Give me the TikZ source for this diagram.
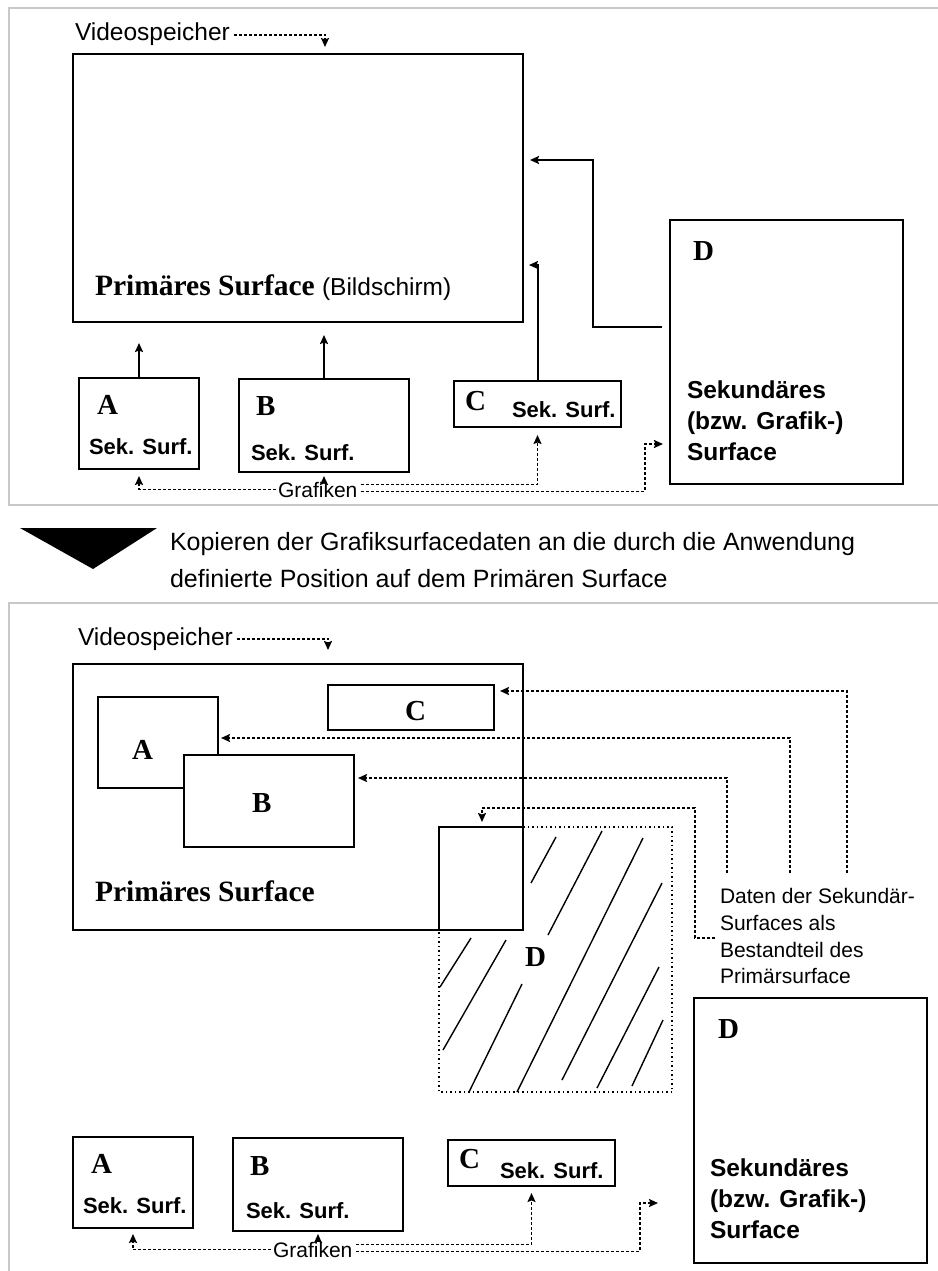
\documentclass[tikz,border=0pt]{standalone}
\usepackage{fontspec}
\setmainfont{Liberation Serif}
\setsansfont{Liberation Sans}
\usetikzlibrary{arrows.meta}
\definecolor{panelgray}{RGB}{200,200,200}
\tikzset{
  surf/.style={draw, line width=2.2pt, inner sep=0pt, outer sep=0pt, anchor=north west, fill=white},
  txtn/.style={inner sep=0pt, outer sep=0pt, anchor=base west, font=\sffamily\fontsize{#1}{#1}\selectfont},
  txtb/.style={inner sep=0pt, outer sep=0pt, anchor=base west, font=\sffamily\bfseries\fontsize{#1}{#1}\selectfont},
  txtser/.style={inner sep=0pt, outer sep=0pt, anchor=base west, font=\bfseries\fontsize{#1}{#1}\selectfont},
  solidarrow/.style={line width=2pt, -{Stealth[length=9pt,width=8pt,inset=1.5pt]}},
  dotarrow/.style={line width=1.8pt, dash pattern=on 3pt off 2pt, -{Stealth[length=9pt,width=8pt,inset=1.5pt]}},
  panelline/.style={draw=panelgray, line width=2pt},
  dregion/.style={line width=1.5pt, dash pattern=on 1.5pt off 3pt},
  hatchline/.style={line width=1.4pt},
}
\begin{document}
\begin{tikzpicture}[x=1pt,y=-1pt]
\useasboundingbox (0,0) rectangle (937,1271);
\fill[white] (0,0) rectangle (937,1271);

% ---------- upper panel ----------
\draw[panelline] (945,8) -- (9,8) -- (9,505) -- (945,505);

\node[txtn=24.5] (V1) at (75,41) {Videospeicher};
\coordinate (V1t) at (325,47);
\draw[dotarrow] ([xshift=4pt]V1.east) -| (V1t);

\node[surf, minimum width=450pt, minimum height=268pt] (P1) at (73,54) {};
\node[txtser=29.5] (P1l) at (95,295) {Primäres Surface};
\node[txtn=24.5] (P1b) at (322,295) {(Bildschirm)};

\node[surf, minimum width=233pt, minimum height=264pt] (D1) at (670,220) {};
\node[txtser=29] (D1l) at (693,260) {D};
\node[txtb=24.5] (D1s1) at (687,398) {Sekundäres};
\node[txtb=24.5] (D1s2) at (687,429) {(bzw. Grafik-)};
\node[txtb=24.5] (D1s3) at (687,460) {Surface};

\node[surf, minimum width=120pt, minimum height=91pt] (A1) at (79,378) {};
\node[txtser=29] (A1l) at (97,414) {A};
\node[txtb=22] (A1s) at (89,454) {Sek. Surf.};

\node[surf, minimum width=170pt, minimum height=93pt] (B1) at (239,379) {};
\node[txtser=29] (B1l) at (256,415) {B};
\node[txtb=22] (B1s) at (251,460) {Sek. Surf.};

\node[surf, minimum width=167pt, minimum height=46pt] (C1) at (454,381) {};
\node[txtser=29] (C1l) at (465,410) {C};
\node[txtb=22] (C1s) at (512,417) {Sek. Surf.};

% copying into the primary surface
\coordinate (A1t) at (139,343);
\coordinate (B1t) at (324,335);
\coordinate (C1t) at (529,265);
\coordinate (D1t) at (530,160);
\draw[solidarrow] (A1.north) -- (A1t);
\draw[solidarrow] (B1.north) -- (B1t);
\draw[solidarrow] (C1.north) |- (C1t);
\draw[solidarrow] ([shift={(-8pt,25pt)}]D1.west) -- ++(-69,0) |- (D1t);

% graphics loaded into the secondary surfaces
\node[txtn=21] (G1) at (278,497) {Grafiken};
\draw[dotarrow] ([xshift=-2pt]G1.west) -| ([yshift=-7pt]A1.south);
\draw[dotarrow] (G1.north -| B1.south) -- ([yshift=-4pt]B1.south);
\draw[dotarrow] ([shift={(4pt,5pt)}]G1.east) -| ([yshift=-8pt]C1.south);
\coordinate (D1in) at (663,444);
\draw[dotarrow] ([shift={(4pt,-2pt)}]G1.east) -| (645,444) -- (D1in);

% ---------- transition ----------
\fill (20,528) -- (157,528) -- (93,569) -- cycle;
\node[txtn=25] (K1) at (170,550) {Kopieren der Grafiksurfacedaten an die durch die Anwendung};
\node[txtn=25] (K2) at (170,587) {definierte Position auf dem Primären Surface};

% ---------- lower panel ----------
\draw[panelline] (945,603) -- (9,603) -- (9,1280);

\node[txtn=24.5] (V2) at (78,645) {Videospeicher};
\coordinate (V2t) at (328,650);
\draw[dotarrow] ([xshift=4pt]V2.east) -| (V2t);

\node[surf, minimum width=450pt, minimum height=266pt] (P2) at (73,664) {};
\node[txtser=29.5] (P2l) at (95,901) {Primäres Surface};

\node[surf, minimum width=120pt, minimum height=91pt] (iA) at (98,697) {};
\node[txtser=29] (iAl) at (132,759) {A};
\node[surf, minimum width=170pt, minimum height=92pt] (iB) at (184,755) {};
\node[txtser=29] (iBl) at (252,812) {B};
\node[surf, minimum width=166pt, minimum height=45pt] (iC) at (328,685) {};
\node[txtser=29] (iCl) at (405,720) {C};

% part of D lying inside the primary surface, and the rest outside it
\draw[dregion] (523,827) -- (672,827) -- (672,1092) -- (439,1092) -- (439,930);
\node[surf, fill=none, minimum width=84pt, minimum height=103pt] (iD) at (439,827) {};
\draw[hatchline] (531,883) -- (556,837);
\draw[hatchline] (548,935) -- (602,831);
\draw[hatchline] (517,1092) -- (643,838);
\draw[hatchline] (562,1080) -- (662,883);
\draw[hatchline] (597,1088) -- (659,967);
\draw[hatchline] (632,1086) -- (663,1020);
\draw[hatchline] (440,987) -- (471,938);
\draw[hatchline] (443,1050) -- (506,940);
\draw[hatchline] (469,1092) -- (522,984);
\node[txtser=29] (iDl) at (525,966) {D};

% data of the secondary surfaces
\node[txtn=21] (T1) at (720,903) {Daten der Sekundär-};
\node[txtn=21] (T2) at (720,930) {Surfaces als};
\node[txtn=21] (T3) at (720,957) {Bestandteil des};
\node[txtn=21] (T4) at (720,983) {Primärsurface};

\coordinate (sC) at (847,873);
\coordinate (sA) at (790,873);
\coordinate (sB) at (727,873);
\coordinate (sD) at (715,938);
\coordinate (tC) at (500,691);
\coordinate (tA) at (221,738);
\coordinate (tB) at (358,778);
\coordinate (tD) at (482,822);
\draw[dotarrow] (sC) |- (tC);
\draw[dotarrow] (sA) |- (tA);
\draw[dotarrow] (sB) |- (tB);
\draw[dotarrow] (sD) -| (695,808) -| (tD);

\node[surf, minimum width=233pt, minimum height=265pt] (D2) at (694,998) {};
\node[txtser=29] (D2l) at (718,1038) {D};
\node[txtb=24.5] (D2s1) at (710,1176) {Sekundäres};
\node[txtb=24.5] (D2s2) at (710,1207) {(bzw. Grafik-)};
\node[txtb=24.5] (D2s3) at (710,1238) {Surface};

\node[surf, minimum width=120pt, minimum height=91pt] (A2) at (73,1137) {};
\node[txtser=29] (A2l) at (91,1173) {A};
\node[txtb=22] (A2s) at (83,1213) {Sek. Surf.};

\node[surf, minimum width=170pt, minimum height=93pt] (B2) at (233,1138) {};
\node[txtser=29] (B2l) at (250,1175) {B};
\node[txtb=22] (B2s) at (246,1218) {Sek. Surf.};

\node[surf, minimum width=167pt, minimum height=46pt] (C2) at (448,1140) {};
\node[txtser=29] (C2l) at (459,1168) {C};
\node[txtb=22] (C2s) at (500,1178) {Sek. Surf.};

\node[txtn=21] (G2) at (273,1257) {Grafiken};
\draw[dotarrow] ([xshift=-2pt]G2.west) -| ([yshift=-6pt]A2.south);
\draw[dotarrow] (G2.north -| B2.south) -- ([yshift=-3pt]B2.south);
\draw[dotarrow] ([shift={(4pt,5pt)}]G2.east) -| ([yshift=-7pt]C2.south);
\coordinate (D2in) at (658,1203);
\draw[dotarrow] ([shift={(4pt,-2pt)}]G2.east) -| (640,1203) -- (D2in);
\end{tikzpicture}
\end{document}
